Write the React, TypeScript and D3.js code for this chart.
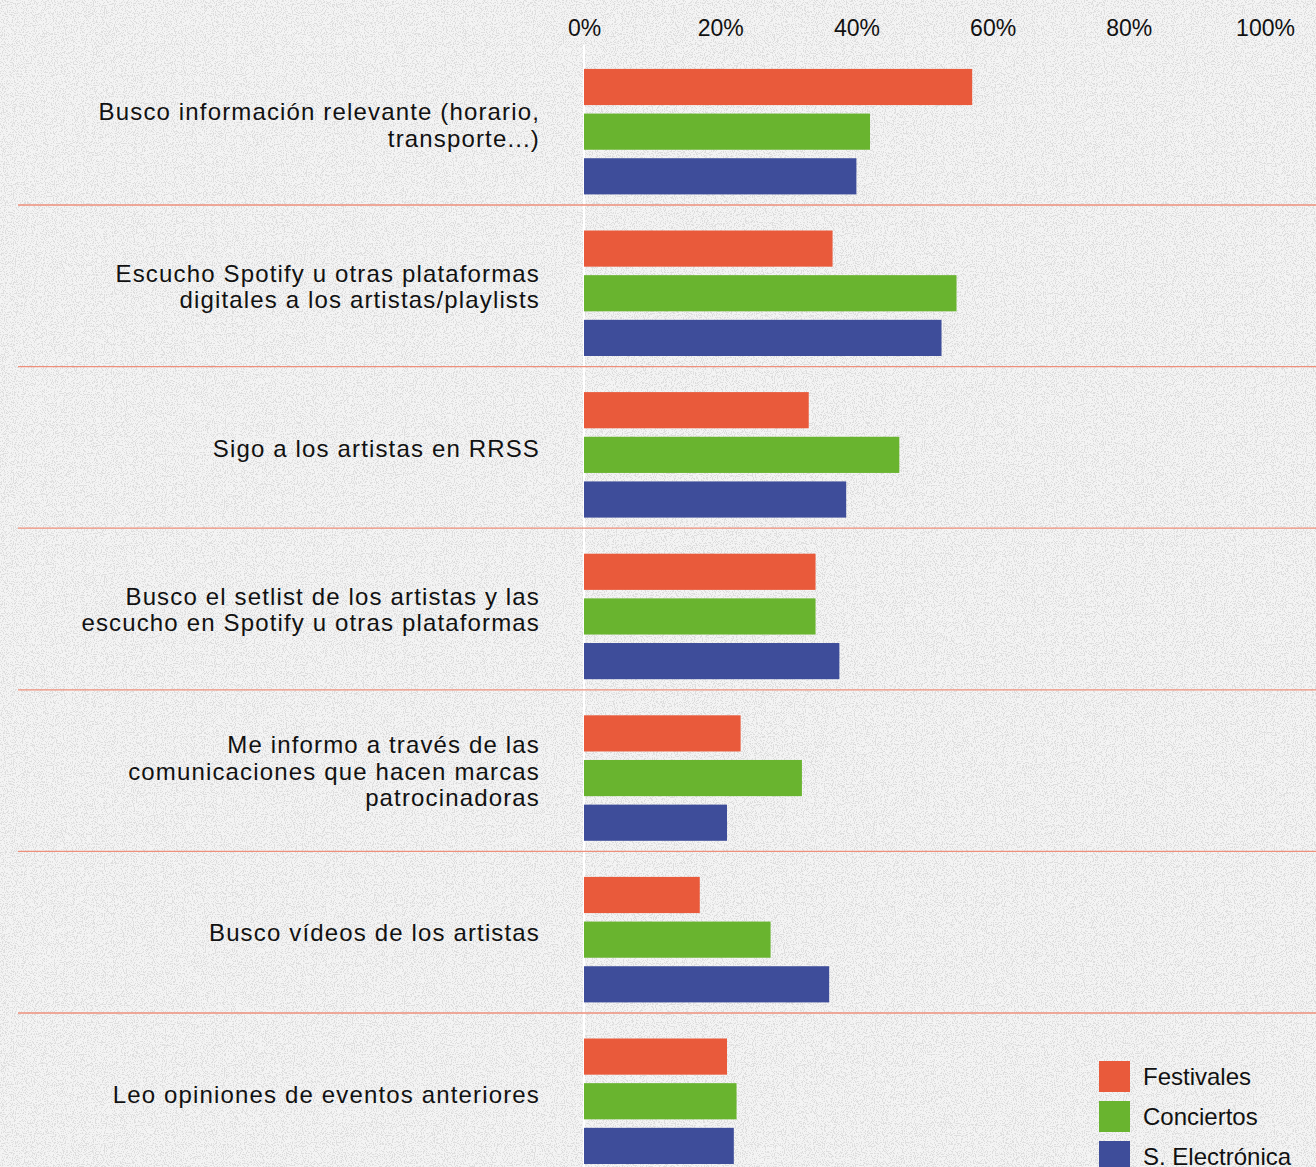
import * as d3 from "d3";
import React, { useRef, useEffect } from "react";

const W = 1316;
const H = 1167;

const categories = [
  ["Busco información relevante (horario,", "transporte...)"],
  ["Escucho Spotify u otras plataformas", "digitales a los artistas/playlists"],
  ["Sigo a los artistas en RRSS"],
  ["Busco el setlist de los artistas y las", "escucho en Spotify u otras plataformas"],
  ["Me informo a través de las", "comunicaciones que hacen marcas", "patrocinadoras"],
  ["Busco vídeos de los artistas"],
  ["Leo opiniones de eventos anteriores"],
];
const series = ["Festivales", "Conciertos", "S. Electrónica"];
const festivales = [57, 36.5, 33, 34, 23, 17, 21];
const conciertos = [42, 54.7, 46.3, 34, 32, 27.4, 22.4];
const electronica = [40, 52.5, 38.5, 37.5, 21, 36, 22];
const tickValues = [0, 20, 40, 60, 80, 100];
const colors = ["#e95a3b", "#69b42f", "#3e4d9a"];

const font = "'Liberation Sans', Arial, Helvetica, sans-serif";

function App() {
  const ref = useRef(null);

  useEffect(() => {
    document.body.style.margin = "0";
    const svg = d3.select(ref.current);
    svg.selectAll("*").remove();

    const values = [festivales, conciertos, electronica];
    const ids = categories.map((_, i) => i);

    const x = d3.scaleLinear().domain([0, 100]).range([584, 1265]);
    const y = d3
      .scaleBand()
      .domain(ids)
      .range([43.4, 43.4 + 161.6 * ids.length])
      .padding(0);
    const inner = d3
      .scaleBand()
      .domain(series)
      .range([25.5, 151])
      .paddingInner(0.19)
      .paddingOuter(0);
    const color = d3.scaleOrdinal().domain(series).range(colors);

    // background with speckles
    const defs = svg.append("defs");
    const f = defs.append("filter").attr("id", "speck").attr("x", 0).attr("y", 0).attr("width", "100%").attr("height", "100%");
    f.append("feTurbulence")
      .attr("type", "fractalNoise")
      .attr("baseFrequency", 0.9)
      .attr("numOctaves", 2)
      .attr("seed", 3)
      .attr("result", "noise");
    f.append("feColorMatrix")
      .attr("in", "noise")
      .attr("type", "matrix")
      .attr("values", "0 0 0 0 0.45  0 0 0 0 0.45  0 0 0 0 0.45  -9 0 0 0 4.4");
    svg.append("rect").attr("width", W).attr("height", H).attr("fill", "#f4f4f4");
    svg.append("rect").attr("width", W).attr("height", H).attr("fill", "#fff").attr("filter", "url(#speck)").attr("opacity", 0.35);

    // zero line
    svg
      .append("line")
      .attr("x1", x(0))
      .attr("x2", x(0))
      .attr("y1", 45)
      .attr("y2", H)
      .attr("stroke", "#ffffff")
      .attr("stroke-width", 2);

    // separators
    svg
      .append("g")
      .selectAll("line")
      .data(ids.slice(0, -1))
      .join("line")
      .attr("x1", 18)
      .attr("x2", W)
      .attr("y1", (d) => y(d) + y.bandwidth())
      .attr("y2", (d) => y(d) + y.bandwidth())
      .attr("stroke", "#ee8f7b")
      .attr("stroke-width", 1.3);

    // top axis
    const axis = svg
      .append("g")
      .attr("transform", "translate(0,36)")
      .call(d3.axisTop(x).tickValues(tickValues).tickFormat((d) => d + "%").tickSize(0).tickPadding(0));
    axis.select(".domain").remove();
    axis
      .selectAll("text")
      .attr("font-family", font)
      .attr("font-size", 23)
      .attr("fill", "#111");

    // bars
    const groups = svg
      .append("g")
      .selectAll("g")
      .data(ids)
      .join("g")
      .attr("transform", (d) => `translate(0,${y(d)})`);
    groups
      .selectAll("rect")
      .data((i) => series.map((s, k) => ({ s, v: values[k][i] })))
      .join("rect")
      .attr("x", x(0))
      .attr("y", (d) => inner(d.s))
      .attr("width", (d) => x(d.v) - x(0))
      .attr("height", inner.bandwidth())
      .attr("fill", (d) => color(d.s));

    // category labels
    const lh = 26.5;
    groups
      .append("text")
      .attr("text-anchor", "end")
      .attr("font-family", font)
      .attr("font-size", 24)
      .attr("letter-spacing", "1.15px")
      .attr("fill", "#111")
      .selectAll("tspan")
      .data((i) => categories[i].map((t, j) => ({ t, j, n: categories[i].length })))
      .join("tspan")
      .attr("x", 540)
      .attr("y", (d) => 81.5 - ((d.n - 1) * lh) / 2 + d.j * lh + 8.5)
      .text((d) => d.t);

    // legend
    const legend = svg
      .append("g")
      .selectAll("g")
      .data(series)
      .join("g")
      .attr("transform", (d, k) => `translate(1099,${1061 + k * 40})`);
    legend
      .append("rect")
      .attr("width", 31)
      .attr("height", 31)
      .attr("fill", (d) => color(d));
    legend
      .append("text")
      .attr("x", 44)
      .attr("y", 24)
      .attr("font-family", font)
      .attr("font-size", 24)
      .attr("fill", "#111")
      .text((d) => d);
  }, []);

  return <svg ref={ref} width={W} height={H} style={{ display: "block" }}></svg>;
}

export default App;
